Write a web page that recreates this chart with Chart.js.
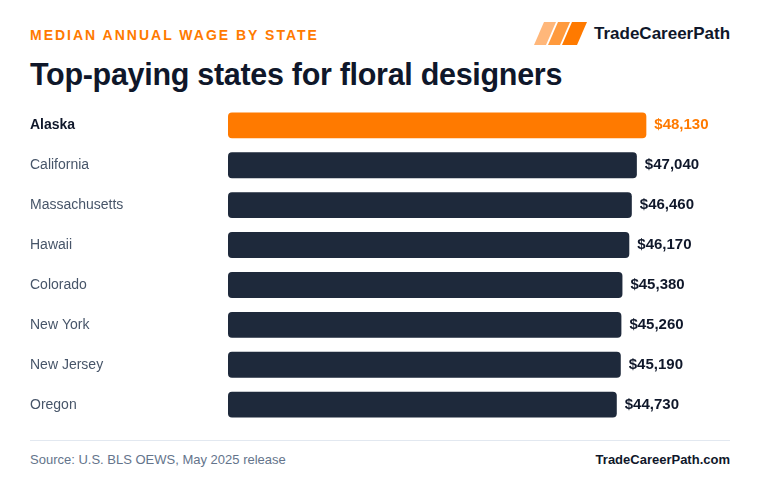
<!DOCTYPE html>
<html>
<head>
<meta charset="utf-8">
<script src="https://cdn.jsdelivr.net/npm/chart.js@4"></script>
<style>
  body { margin:0; width:760px; height:496px; background:#fff; font-family:"Liberation Sans", Arial, sans-serif; position:relative; overflow:hidden; }
  .kicker { position:absolute; left:30px; top:27px; font-size:14px; font-weight:bold; letter-spacing:2px; color:#ff7a00; }
  .title { position:absolute; left:30px; top:57px; font-size:30.5px; font-weight:bold; color:#0f172a; letter-spacing:-0.3px; }
  .logo { position:absolute; left:534px; top:22px; height:23px; }
  .brand { position:absolute; left:594px; top:24px; font-size:17px; font-weight:bold; color:#0f172a; }
  .chartbox { position:absolute; left:30px; top:97px; width:700px; height:336px; }
  .rule { position:absolute; left:30px; top:440px; width:700px; height:1px; background:#e2e8f0; }
  .source { position:absolute; left:30px; top:452px; font-size:13px; color:#64748b; }
  .site { position:absolute; right:30px; top:452px; font-size:13px; font-weight:bold; color:#0f172a; }
</style>
</head>
<body>
<div class="kicker">MEDIAN ANNUAL WAGE BY STATE</div>
<div class="title">Top-paying states for floral designers</div>
<svg class="logo" width="54" height="23" viewBox="0 0 54 23">
  <polygon points="0,23 10,0 22,0 12,23" fill="#ffb77a"/>
  <polygon points="14,23 24,0 36,0 26,23" fill="#ff9a3d"/>
  <polygon points="28,23 38,0 53,0 43,23" fill="#ff7a00"/>
</svg>
<div class="brand">TradeCareerPath</div>
<div class="chartbox"><canvas id="chart"></canvas></div>
<div class="rule"></div>
<div class="source">Source: U.S. BLS OEWS, May 2025 release</div>
<div class="site">TradeCareerPath.com</div>
<script>
const states = ["Alaska","California","Massachusetts","Hawaii","Colorado","New York","New Jersey","Oregon"];
const wages = [48130, 47040, 46460, 46170, 45380, 45260, 45190, 44730];
const barColors = states.map((s, i) => i === 0 ? "#ff7a00" : "#1e293b");

const valueLabels = {
  id: "valueLabels",
  afterDatasetsDraw(chart) {
    const ctx = chart.ctx;
    const meta = chart.getDatasetMeta(0);
    ctx.save();
    ctx.font = "bold 15px 'Liberation Sans', Arial, sans-serif";
    ctx.textBaseline = "middle";
    meta.data.forEach((bar, i) => {
      ctx.fillStyle = i === 0 ? "#ff7a00" : "#0f172a";
      ctx.fillText("$" + wages[i].toLocaleString("en-US"), bar.x + 8, bar.y);
    });
    ctx.restore();
  }
};

new Chart(document.getElementById("chart"), {
  type: "bar",
  data: {
    labels: states,
    datasets: [{
      data: wages,
      backgroundColor: barColors,
      borderRadius: 4,
      borderSkipped: false,
      barPercentage: 0.65,
      categoryPercentage: 1
    }]
  },
  options: {
    indexAxis: "y",
    responsive: true,
    maintainAspectRatio: false,
    animation: false,
    layout: { padding: 0 },
    plugins: { legend: { display: false }, tooltip: { enabled: false } },
    scales: {
      x: { display: false, min: 0, max: Math.max(...wages) * 1.2 },
      y: {
        grid: { display: false, drawTicks: false },
        border: { display: false },
        afterFit(scale) { scale.width = 198; },
        ticks: {
          crossAlign: "far",
          padding: 0,
          color: ctx => ctx.index === 0 ? "#0f172a" : "#475569",
          font: ctx => ({ family: "'Liberation Sans', Arial, sans-serif", size: 14, weight: ctx.index === 0 ? "bold" : "normal" })
        }
      }
    }
  },
  plugins: [valueLabels]
});
</script>
</body>
</html>
